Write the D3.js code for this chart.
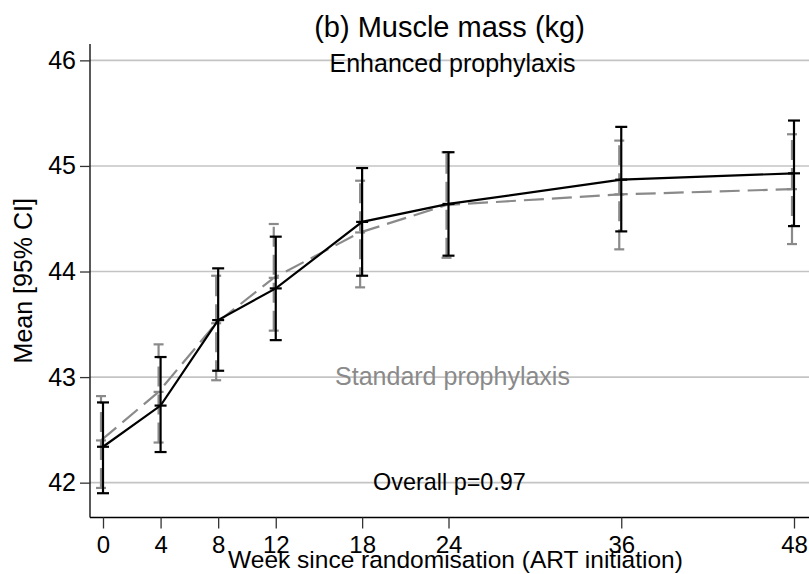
<!DOCTYPE html>
<html>
<head>
<meta charset="utf-8">
<script src="https://cdn.jsdelivr.net/npm/d3@7"></script>
<style>
  html, body { margin: 0; padding: 0; background: #fff; }
  svg { display: block; font-family: "Liberation Sans", Arial, Helvetica, sans-serif; }
</style>
</head>
<body>
<svg id="chart" width="809" height="574"></svg>
<script>
// ---- data ----
const weeks = [0, 4, 8, 12, 18, 24, 36, 48];
const xTicks = [0, 4, 8, 12, 18, 24, 36, 48];
const yTicks = [42, 43, 44, 45, 46];

const enhancedMean = [42.34, 42.73, 43.54, 43.84, 44.47, 44.64, 44.87, 44.93];
const enhancedLo   = [41.90, 42.29, 43.06, 43.35, 43.96, 44.15, 44.38, 44.43];
const enhancedHi   = [42.76, 43.19, 44.03, 44.33, 44.98, 45.13, 45.37, 45.43];

const standardMean = [42.40, 42.86, 43.51, 43.94, 44.37, 44.63, 44.73, 44.78];
const standardLo   = [41.95, 42.38, 42.97, 43.44, 43.85, 44.13, 44.21, 44.26];
const standardHi   = [42.82, 43.31, 43.96, 44.45, 44.86, 45.13, 45.24, 45.30];

const titleText = "(b) Muscle mass (kg)";
const xTitle = "Week since randomisation (ART initiation)";
const yTitle = "Mean [95% CI]";
const enhancedLabel = "Enhanced prophylaxis";
const standardLabel = "Standard prophylaxis";
const pLabel = "Overall p=0.97";

(function () {
// ---- layout ----
const svg = d3.select("#chart");
const pl = 90, pr = 809, pt = 44, pb = 517.5;

const x = d3.scaleLinear().domain([0, 48]).range([103, 794]);
const y = d3.scaleLinear().domain([41.67, 46.155]).range([pb, pt]);

const gridColor = "#c4c4c4";
const grayColor = "#8a8a8a";

// gridlines
svg.append("g").selectAll("line").data(yTicks).join("line")
  .attr("x1", pl).attr("x2", pr)
  .attr("y1", d => y(d)).attr("y2", d => y(d))
  .attr("stroke", gridColor).attr("stroke-width", 1.6);

// axes
const yAxis = d3.axisLeft(y).tickValues(yTicks).tickSize(10).tickPadding(4).tickFormat(d3.format("d"));
const gy = svg.append("g").attr("transform", `translate(${pl},0)`).call(yAxis);
gy.select(".domain").attr("d", `M0,${pt}V${pb}`).attr("stroke", "#000").attr("stroke-width", 1.3);
gy.selectAll(".tick line").attr("stroke", "#333").attr("stroke-width", 1.3);
gy.selectAll(".tick text").attr("font-size", 25).attr("fill", "#000")
  .attr("font-family", "Liberation Sans, Arial, sans-serif");

const xAxis = d3.axisBottom(x).tickValues(xTicks).tickSize(11).tickPadding(7).tickFormat(d3.format("d"));
const gx = svg.append("g").attr("transform", `translate(0,${pb})`).call(xAxis);
gx.select(".domain").attr("d", `M${pl},0H${pr}`).attr("stroke", "#000").attr("stroke-width", 1.3);
gx.selectAll(".tick line").attr("stroke", "#333").attr("stroke-width", 1.3);
gx.selectAll(".tick text").attr("font-size", 24).attr("fill", "#000")
  .attr("y", 35).attr("dy", null)
  .attr("font-family", "Liberation Sans, Arial, sans-serif");

// series drawing
function drawSeries(mean, lo, hi, color, dash, dx, capW) {
  const g = svg.append("g");
  const pts = weeks.map((w, i) => ({w, m: mean[i], lo: lo[i], hi: hi[i]}));
  g.selectAll("line.ci").data(pts).join("line").attr("class", "ci")
    .attr("x1", d => x(d.w) + dx).attr("x2", d => x(d.w) + dx)
    .attr("y1", d => y(d.lo)).attr("y2", d => y(d.hi))
    .attr("stroke", color).attr("stroke-width", 2.2)
    .attr("stroke-dasharray", dash);
  g.selectAll("line.caplo").data(pts).join("line").attr("class", "caplo")
    .attr("x1", d => x(d.w) + dx - capW / 2).attr("x2", d => x(d.w) + dx + capW / 2)
    .attr("y1", d => y(d.lo)).attr("y2", d => y(d.lo))
    .attr("stroke", color).attr("stroke-width", 2.2);
  g.selectAll("line.caphi").data(pts).join("line").attr("class", "caphi")
    .attr("x1", d => x(d.w) + dx - capW / 2).attr("x2", d => x(d.w) + dx + capW / 2)
    .attr("y1", d => y(d.hi)).attr("y2", d => y(d.hi))
    .attr("stroke", color).attr("stroke-width", 2.2);
  const line = d3.line().x(d => x(d.w) + dx).y(d => y(d.m));
  g.append("path").datum(pts).attr("d", line)
    .attr("fill", "none").attr("stroke", color).attr("stroke-width", 2.2)
    .attr("stroke-dasharray", dash);
  g.selectAll("line.mk").data(pts).join("line").attr("class", "mk")
    .attr("x1", d => x(d.w) + dx - capW / 2).attr("x2", d => x(d.w) + dx + capW / 2)
    .attr("y1", d => y(d.m)).attr("y2", d => y(d.m))
    .attr("stroke", color).attr("stroke-width", 2.2);
}

drawSeries(standardMean, standardLo, standardHi, grayColor, "20,8", -2, 10);
drawSeries(enhancedMean, enhancedLo, enhancedHi, "#000", null, 0, 12);

// texts
const cx = (pl + pr) / 2;
svg.append("text").attr("x", cx).attr("y", 37).attr("text-anchor", "middle")
  .attr("font-size", 29).attr("fill", "#000").text(titleText);
svg.append("text").attr("x", cx + 3).attr("y", 72).attr("text-anchor", "middle")
  .attr("font-size", 25).attr("fill", "#000").text(enhancedLabel);
svg.append("text").attr("x", cx + 3).attr("y", 385).attr("text-anchor", "middle")
  .attr("font-size", 25).attr("fill", grayColor).text(standardLabel);
svg.append("text").attr("x", cx).attr("y", 490).attr("text-anchor", "middle")
  .attr("font-size", 23.4).attr("fill", "#000").text(pLabel);
svg.append("text").attr("x", 455.5).attr("y", 568).attr("text-anchor", "middle")
  .attr("font-size", 24.5).attr("fill", "#000").text(xTitle);
svg.append("text").attr("transform", `translate(32,${(pt + pb) / 2}) rotate(-90)`)
  .attr("text-anchor", "middle").attr("font-size", 25).attr("fill", "#000").text(yTitle);
})();
</script>
</body>
</html>
